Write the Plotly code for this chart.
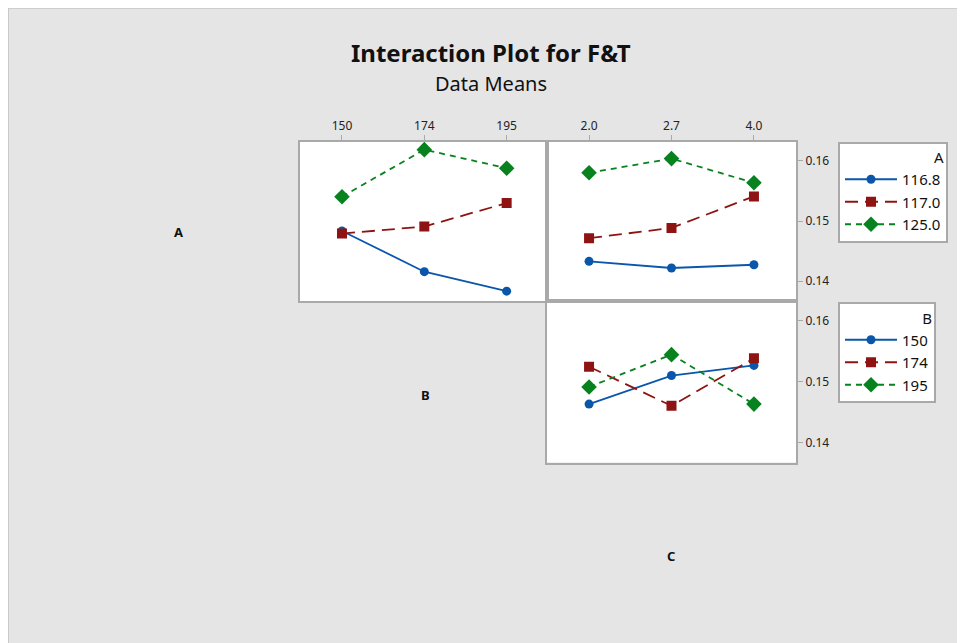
import plotly.graph_objects as go

# ---- data ----
B_levels = ["150", "174", "195"]
C_levels = ["2.0", "2.7", "4.0"]
A_levels = ["116.8", "117.0", "125.0"]

# A x B panel : mean F&T vs B for each level of A
AB_116_8 = [0.14836, 0.14159, 0.13835]
AB_117_0 = [0.14793, 0.14909, 0.15299]
AB_125_0 = [0.15405, 0.16187, 0.15878]

# A x C panel : mean F&T vs C for each level of A
AC_116_8 = [0.14331, 0.14220, 0.14274]
AC_117_0 = [0.14716, 0.14886, 0.15410]
AC_125_0 = [0.15802, 0.16038, 0.15636]

# B x C panel : mean F&T vs C for each level of B
BC_150 = [0.14630, 0.15099, 0.15265]
BC_174 = [0.15244, 0.14602, 0.15381]
BC_195 = [0.14912, 0.15442, 0.14630]

y_ticks = [0.14, 0.15, 0.16]

# ---- styling ----
OFF = 8                     # page body margin of the browser
W, H = 965 - OFF, 643 - OFF
BLUE, RED, GREEN = "#0a56aa", "#8e1414", "#07821f"
GRID = "#a9a9a9"
FONT = "Noto Sans"

styles = [
    dict(color=BLUE, dash="solid", symbol="circle", size=9),
    dict(color=RED, dash="13px,7px", symbol="square", size=10),
    dict(color=GREEN, dash="6px,5px", symbol="diamond", size=12),
]

def px_x(p):
    return (p - OFF) / W

def px_y(p):
    return 1 - (p - OFF) / H

fig = go.Figure()

def add_series(xcats, ys, name, st, xa, ya, legend, show):
    fig.add_trace(go.Scatter(
        x=xcats, y=ys, name=name, mode="lines+markers",
        xaxis=xa, yaxis=ya, legend=legend, showlegend=show,
        line=dict(color=st["color"], dash=st["dash"], width=1.8),
        marker=dict(color=st["color"], symbol=st["symbol"], size=st["size"]),
    ))

for name, ys, st in zip(A_levels, [AB_116_8, AB_117_0, AB_125_0], styles):
    add_series(B_levels, ys, name, st, "x", "y", "legend", True)
for name, ys, st in zip(A_levels, [AC_116_8, AC_117_0, AC_125_0], styles):
    add_series(C_levels, ys, name, st, "x2", "y2", "legend", False)
for name, ys, st in zip(B_levels, [BC_150, BC_174, BC_195], styles):
    add_series(C_levels, ys, name, st, "x3", "y3", "legend2", True)

yr = [0.13672, 0.16322]
col1 = [px_x(300), px_x(547)]
col2 = [px_x(547), px_x(796)]
row0 = [px_y(301), px_y(141.5)]
row1 = [px_y(462.5), px_y(301)]

axis_common = dict(showline=True, mirror=True, linecolor=GRID, linewidth=2,
                   showgrid=False, zeroline=False,
                   tickfont=dict(family=FONT, size=12, color="#222"),
                   ticks="outside", ticklen=5, tickcolor=GRID, tickwidth=1)

legend_common = dict(xanchor="left", yanchor="top",
                     bgcolor="white", bordercolor=GRID, borderwidth=2,
                     font=dict(family=FONT, size=15, color="#111"),
                     itemwidth=52, tracegroupgap=0)

fig.update_layout(
    width=W, height=H,
    margin=dict(l=0, r=0, t=0, b=0),
    paper_bgcolor="#e5e5e5",
    plot_bgcolor="white",
    font=dict(family=FONT, color="#111"),
    xaxis=dict(axis_common, domain=col1, anchor="y", side="top", type="category",
               categoryorder="array", categoryarray=B_levels, range=[-0.51, 2.49]),
    yaxis=dict(axis_common, domain=row0, anchor="x", range=yr, showticklabels=False, ticks=""),
    xaxis2=dict(axis_common, domain=col2, anchor="y2", side="top", type="category",
                categoryorder="array", categoryarray=C_levels, range=[-0.51, 2.51]),
    yaxis2=dict(axis_common, domain=row0, anchor="x2", side="right", range=yr,
                tickvals=y_ticks, tickformat=".2f"),
    xaxis3=dict(axis_common, domain=col2, anchor="y3", type="category",
                categoryorder="array", categoryarray=C_levels, range=[-0.51, 2.51],
                showticklabels=False, ticks=""),
    yaxis3=dict(axis_common, domain=row1, anchor="x3", side="right", range=yr,
                tickvals=y_ticks, tickformat=".2f"),
    legend=dict(legend_common, x=px_x(838), y=px_y(141.5),
                title=dict(text="A", side="top right", font=dict(family=FONT, size=15))),
    legend2=dict(legend_common, x=px_x(838), y=px_y(302),
                 title=dict(text="B", side="top right", font=dict(family=FONT, size=15))),
    showlegend=True,
)

# title and subtitle
fig.add_annotation(text="<b>Interaction Plot for F&T</b>", x=px_x(491), y=px_y(52),
                   xref="paper", yref="paper", showarrow=False,
                   xanchor="center", yanchor="middle",
                   font=dict(family=FONT, size=24, color="#111"))
fig.add_annotation(text="Data Means", x=px_x(491), y=px_y(83),
                   xref="paper", yref="paper", showarrow=False,
                   xanchor="center", yanchor="middle",
                   font=dict(family=FONT, size=20, color="#111"))

# factor labels on the diagonal
for lab, (lx, ly) in zip(["A", "B", "C"], [(178, 232), (425, 395), (671, 556)]):
    fig.add_annotation(text=f"<b>{lab}</b>", x=px_x(lx), y=px_y(ly),
                       xref="paper", yref="paper", showarrow=False,
                       xanchor="center", yanchor="middle",
                       font=dict(family=FONT, size=13, color="#111"))

# thin edge lines of the grey page
fig.add_shape(type="line", xref="paper", yref="paper", x0=0.0005, x1=0.0005, y0=0, y1=1,
              line=dict(color="#c8c8c8", width=1), layer="above")
fig.add_shape(type="line", xref="paper", yref="paper", x0=0, x1=1, y0=0.9995, y1=0.9995,
              line=dict(color="#c8c8c8", width=1), layer="above")

fig.write_html("out.html")
